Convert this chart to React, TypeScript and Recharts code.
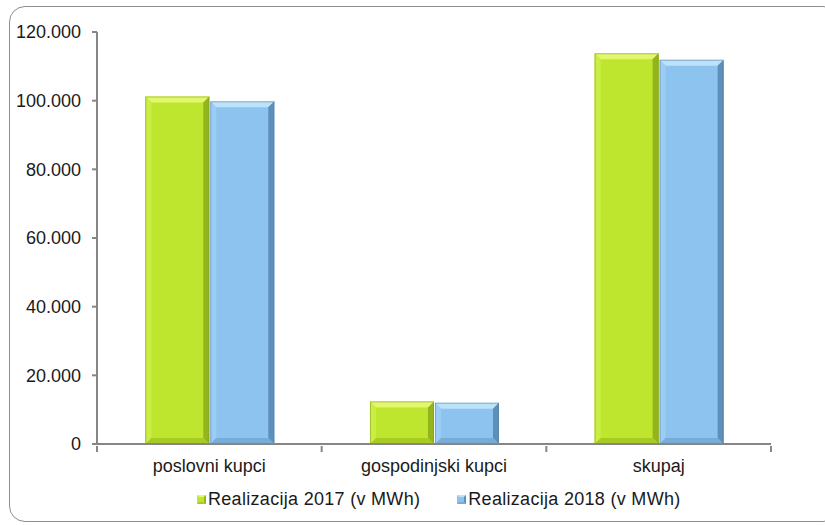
import { BarChart, Bar, XAxis, YAxis, Legend } from "recharts";

const categories = ["poslovni kupci", "gospodinjski kupci", "skupaj"];
const realizacija2017 = [101200, 12400, 113800];
const realizacija2018 = [99800, 12000, 111900];
const yTicks = [0, 20000, 40000, 60000, 80000, 100000, 120000];

const seriesNames = ["Realizacija 2017 (v MWh)", "Realizacija 2018 (v MWh)"];

const data = categories.map((name, i) => ({
  name,
  r2017: realizacija2017[i],
  r2018: realizacija2018[i],
}));

const FONT = "'Liberation Sans', Arial, sans-serif";

const palette: Record<string, any> = {
  green: {
    main: "#bee62e",
    top: "#e2f76c",
    left: "#c9ee45",
    right: "#94b41d",
    bottom: "#a8cb24",
    edge: "#7f9a1a",
  },
  blue: {
    main: "#8dc3ef",
    top: "#bde3fb",
    left: "#9ccdf4",
    right: "#5e8fba",
    bottom: "#78acd8",
    edge: "#56809f",
  },
};

const fmt = (v: number) =>
  v === 0 ? "0" : v.toString().replace(/\B(?=(\d{3})+(?!\d))/g, ".");

// bar with bevelled edges, like the office chart style
const BevelBar = (props: any) => {
  const { x, y, width, height, tone } = props;
  if (!height || height <= 0) return null;
  const c = palette[tone];
  const b = Math.min(6, width / 2, height / 2);
  const x2 = x + width;
  const y2 = y + height;
  return (
    <g>
      <rect x={x} y={y} width={width} height={height} fill={c.main} />
      <polygon
        points={`${x},${y} ${x2},${y} ${x2 - b},${y + b} ${x + b},${y + b}`}
        fill={c.top}
      />
      <polygon
        points={`${x},${y} ${x + b},${y + b} ${x + b},${y2 - b} ${x},${y2}`}
        fill={c.left}
      />
      <polygon
        points={`${x2},${y} ${x2},${y2} ${x2 - b},${y2 - b} ${x2 - b},${y + b}`}
        fill={c.right}
      />
      <polygon
        points={`${x},${y2} ${x + b},${y2 - b} ${x2 - b},${y2 - b} ${x2},${y2}`}
        fill={c.bottom}
      />
      <rect
        x={x + 0.5}
        y={y + 0.5}
        width={width - 1}
        height={height - 1}
        fill="none"
        stroke={c.edge}
        strokeOpacity={0.5}
        strokeWidth={1}
      />
    </g>
  );
};

const CategoryTick = (props: any) => {
  const { x, y, payload, index, visibleTicksCount } = props;
  const half = payload.offset || 112;
  return (
    <g>
      <line x1={x - half} y1={y - 6} x2={x - half} y2={y} stroke="#868686" strokeWidth={2} />
      {index === visibleTicksCount - 1 && (
        <line x1={x + half} y1={y - 6} x2={x + half} y2={y} stroke="#868686" strokeWidth={2} />
      )}
      <text
        x={x}
        y={y}
        dy={20}
        textAnchor="middle"
        fill="#1a1a1a"
        fontSize={18}
        fontFamily={FONT}
      >
        {payload.value}
      </text>
    </g>
  );
};

const LegendSwatch = ({ tone }: { tone: string }) => {
  const c = palette[tone];
  return (
    <svg width={9} height={9} style={{ marginRight: 2 }}>
      <rect x={0} y={0} width={9} height={9} fill={c.main} />
      <polygon points="0,0 9,0 7,2 2,2" fill={c.top} />
      <polygon points="9,0 9,9 7,7 7,2" fill={c.right} />
      <polygon points="0,9 2,7 7,7 9,9" fill={c.bottom} />
    </svg>
  );
};

const ChartLegend = () => (
  <div
    style={{
      height: 36,
      width: 825,
      display: "flex",
      alignItems: "center",
      paddingTop: 5,
      boxSizing: "border-box",
      fontFamily: FONT,
      fontSize: 18,
      letterSpacing: 0.3,
      color: "#1a1a1a",
    }}
  >
    <div style={{ display: "flex", alignItems: "center", marginLeft: 197 }}>
      <LegendSwatch tone="green" />
      <span>{seriesNames[0]}</span>
    </div>
    <div style={{ display: "flex", alignItems: "center", marginLeft: 37 }}>
      <LegendSwatch tone="blue" />
      <span>{seriesNames[1]}</span>
    </div>
  </div>
);

export default function App() {
  return (
    <div style={{ position: "absolute", left: 0, top: 0, width: 825, height: 525, overflow: "hidden", background: "#fff" }}>
      <div
        style={{
          position: "absolute",
          left: 9,
          top: 6,
          width: 830,
          height: 516,
          border: "1.5px solid #8e8e8e",
          borderRadius: 16,
          boxSizing: "border-box",
        }}
      />
      <div style={{ position: "absolute", left: 0, top: 0 }}>
        <BarChart
          width={825}
          height={525}
          data={data}
          margin={{ top: 32, right: 54, left: 0, bottom: 10 }}
          barCategoryGap="21.5%"
          barGap={1}
        >
          <XAxis
            dataKey="name"
            axisLine={{ stroke: "#868686", strokeWidth: 2 }}
            tickLine={false}
            tick={<CategoryTick />}
            height={35}
            interval={0}
          />
          <YAxis
            domain={[0, 120000]}
            ticks={yTicks}
            tickFormatter={fmt}
            width={97}
            axisLine={{ stroke: "#868686", strokeWidth: 2 }}
            tickLine={{ stroke: "#868686", strokeWidth: 2 }}
            tickSize={5}
            tickMargin={11}
            tick={{ fill: "#1a1a1a", fontSize: 18, fontFamily: FONT }}
          />
          <Legend
            verticalAlign="bottom"
            height={36}
            content={<ChartLegend />}
            wrapperStyle={{ left: 0, width: 825 }}
          />
          <Bar dataKey="r2017" name={seriesNames[0]} isAnimationActive={false} shape={<BevelBar tone="green" />} />
          <Bar dataKey="r2018" name={seriesNames[1]} isAnimationActive={false} shape={<BevelBar tone="blue" />} />
        </BarChart>
      </div>
    </div>
  );
}
